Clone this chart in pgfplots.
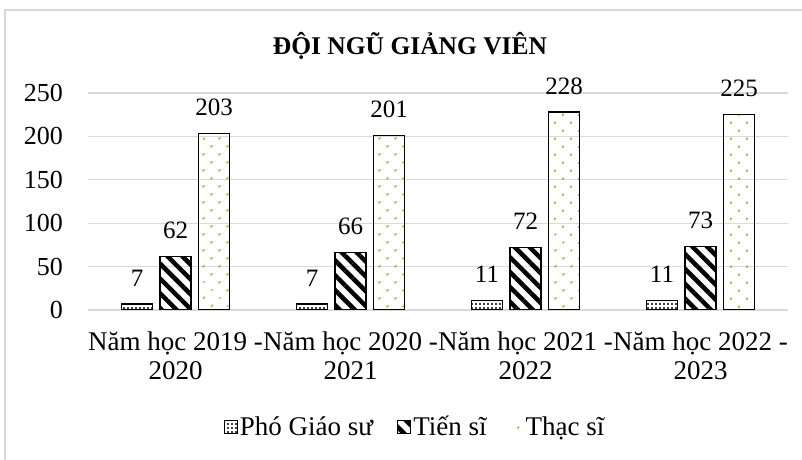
\documentclass[border=0pt]{standalone}
\usepackage{fontspec}
\setmainfont{Liberation Serif}
\usepackage{pgfplots}
\pgfplotsset{compat=1.18}
\usetikzlibrary{patterns.meta}
\definecolor{gridgray}{RGB}{217,217,217}
\definecolor{dotgreen}{RGB}{130,190,60}
\newcommand{\cf}{\fontsize{25bp}{29bp}\selectfont}
\newcommand{\xf}{\fontsize{27bp}{29bp}\selectfont}
\pgfplotsset{
    box legend/.style={legend image code/.code={\draw[##1, line width=1.3bp] (0bp,-6.5bp) rectangle (13bp,6.5bp);}},
    nobox legend/.style={legend image code/.code={\fill[##1, draw=none] (0bp,-6.5bp) rectangle (13bp,6.5bp);}},
}
\begin{document}
\begin{tikzpicture}
\useasboundingbox (0,0) rectangle (802bp,460bp);
% chart frame (cropped at right and bottom)
\draw[gridgray, line width=1.2bp] (5bp,0) -- (5bp,450bp) -- (802bp,450bp);
\node[font=\fontsize{25.5bp}{29bp}\selectfont\bfseries, anchor=base] at (410bp,405bp) {ĐỘI NGŨ GIẢNG VIÊN};
\begin{axis}[
    at={(88bp,150bp)}, anchor=south west,
    scale only axis, width=700bp, height=217bp,
    font=\cf,
    xmin=-0.5, xmax=3.5, ymin=0, ymax=250,
    ybar=7.5bp, bar width=31bp,
    xtick={0,1,2,3},
    xticklabels={Năm học 2019 -\\2020, Năm học 2020 -\\2021, Năm học 2021 -\\2022, Năm học 2022 -\\2023},
    xticklabel style={font=\xf, align=center, anchor=north, inner sep=0pt, yshift=-22bp},
    ytick={0,50,...,250},
    yticklabel style={font=\fontsize{26bp}{29bp}\selectfont, anchor=east, inner sep=0pt, xshift=-25bp},
    /pgf/number format/assume math mode=true,
    major tick length=0pt,
    axis line style={draw=none},
    ymajorgrids, grid style={gridgray, line width=1.3bp},
    nodes near coords,
    nodes near coords style={font=\cf, anchor=south, inner sep=0pt, yshift=17bp},
    box legend,
    legend style={draw=none, fill=none, legend columns=3,
        at={(axis description cs:0.467,-0.539)}, anchor=center,
        nodes={inner sep=2bp, font=\xf},
        /tikz/every even column/.append style={column sep=22bp}},
]
\addplot[draw=black, line width=1.2bp, pattern={Dots[distance=4bp, radius=1.1bp]}, pattern color=black]
    coordinates {(0,7) (1,7) (2,11) (3,11)};
\addlegendentry{Phó Giáo sư}
\addplot[draw=black, line width=1.2bp, pattern={Lines[angle=-45, distance=10.5bp, line width=4.5bp]}, pattern color=black]
    coordinates {(0,62) (1,66) (2,72) (3,73)};
\addlegendentry{Tiến sĩ}
\addplot[draw=black, line width=1.2bp, pattern={Dots[angle=45, distance=11.8bp, radius=1.4bp]}, pattern color=dotgreen, nobox legend]
    coordinates {(0,203) (1,201) (2,228) (3,225)};
\addlegendentry{Thạc sĩ}
\end{axis}
\end{tikzpicture}
\end{document}
